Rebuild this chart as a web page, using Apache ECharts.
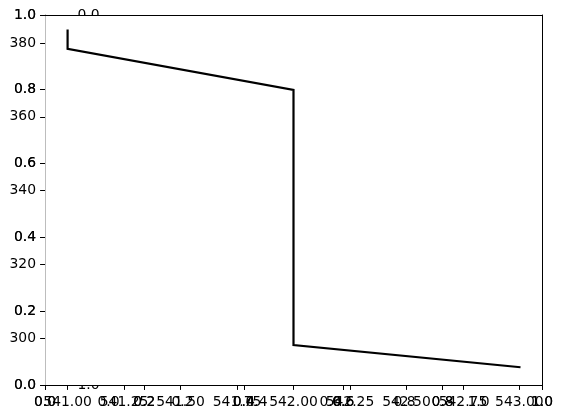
<!DOCTYPE html>
<html>
<head>
<meta charset="utf-8">
<script src="https://cdn.jsdelivr.net/npm/echarts@6/dist/echarts.min.js"></script>
<style>html,body{margin:0;padding:0;background:#fff;}#c{width:563px;height:418px;}</style>
</head>
<body>
<div id="c"></div>
<script>
// data series (step-like line)
const lineX = [541.0, 541.0, 542.0, 542.0, 543.0];
const lineY = [383.4, 378.4, 367.3, 298.1, 292.1];
// tick labels
const dataXTicks = [541.00, 541.25, 541.50, 541.75, 542.00, 542.25, 542.50, 542.75, 543.00];
const dataYTicks = [300, 320, 340, 360, 380];
const unitTicks = [0.0, 0.2, 0.4, 0.6, 0.8, 1.0];

const FONT = 'DejaVu Sans';
const FS = 13.9;
const TICK = 4.9;
const XMARGIN = 10;
const YMARGIN = 9;

const chart = echarts.init(document.getElementById('c'), null, {renderer: 'canvas'});

function unitAxis(extra, margin) {
  return Object.assign({
    type: 'value', min: 0, max: 1, interval: 0.2,
    splitLine: {show: false},
    axisTick: {show: true, inside: false, length: TICK, lineStyle: {color: '#000', width: 1}},
    axisLine: {show: true, lineStyle: {color: '#000', width: 1}},
    axisLabel: {show: true, margin: margin, color: '#000', fontFamily: FONT, fontSize: FS,
      formatter: v => v.toFixed(1)}
  }, extra);
}

const pairs = lineX.map((x, i) => [x, lineY[i]]);

const option = {
  backgroundColor: '#fff',
  animation: false,
  grid: [
    {left: 45, right: 21, top: 15, bottom: 33, show: true, backgroundColor: '#fff', borderWidth: 0, z: 1},
    {left: 108.5, right: 84.5, top: 15, bottom: 33, show: false, z: 0}
  ],
  xAxis: [
    unitAxis({gridIndex: 0, position: 'bottom', z: 3}, XMARGIN),
    unitAxis({gridIndex: 0, position: 'bottom', z: 3}, XMARGIN),
    {
      type: 'value', gridIndex: 0, position: 'bottom', min: 540.9, max: 543.1, z: 3,
      splitLine: {show: false},
      axisLine: {show: true, lineStyle: {color: '#000', width: 1}},
      axisTick: {show: true, length: TICK, customValues: dataXTicks, lineStyle: {color: '#000'}},
      axisLabel: {show: true, margin: XMARGIN, color: '#000', fontFamily: FONT, fontSize: FS,
        customValues: dataXTicks, formatter: v => v.toFixed(2)}
    },
    {
      type: 'value', gridIndex: 0, position: 'top', min: 0, max: 1, z: 3,
      splitLine: {show: false}, axisTick: {show: false}, axisLabel: {show: false},
      axisLine: {show: true, lineStyle: {color: '#000', width: 1}}
    },
    unitAxis({gridIndex: 1, position: 'bottom', z: 0, axisLine: {show: false}}, XMARGIN)
  ],
  yAxis: [
    unitAxis({gridIndex: 0, position: 'left', z: 3, axisLine: {show: true, lineStyle: {color: '#bdbdbd', width: 1}}}, YMARGIN),
    unitAxis({gridIndex: 0, position: 'left', z: 3, axisLine: {show: true, lineStyle: {color: '#bdbdbd', width: 1}}}, YMARGIN),
    {
      type: 'value', gridIndex: 0, position: 'left', min: 287.25, max: 387.6, z: 3,
      splitLine: {show: false},
      axisLine: {show: true, lineStyle: {color: '#bdbdbd', width: 1}},
      axisTick: {show: true, length: TICK, customValues: dataYTicks, lineStyle: {color: '#000'}},
      axisLabel: {show: true, margin: YMARGIN, color: '#000', fontFamily: FONT, fontSize: FS,
        customValues: dataYTicks, formatter: v => String(Math.round(v))}
    },
    {
      type: 'value', gridIndex: 0, position: 'right', min: 0, max: 1, z: 3,
      splitLine: {show: false}, axisTick: {show: false}, axisLabel: {show: false},
      axisLine: {show: true, lineStyle: {color: '#000', width: 1}}
    },
    unitAxis({gridIndex: 1, position: 'left', inverse: true, z: 0, axisLine: {show: false}}, YMARGIN)
  ],
  series: [
    {
      type: 'line', xAxisIndex: 2, yAxisIndex: 2, data: pairs, z: 5,
      symbol: 'none', showSymbol: false,
      lineStyle: {color: '#000', width: 2.2, cap: 'square', join: 'miter'}
    }
  ]
};
chart.setOption(option);
</script>
</body>
</html>
